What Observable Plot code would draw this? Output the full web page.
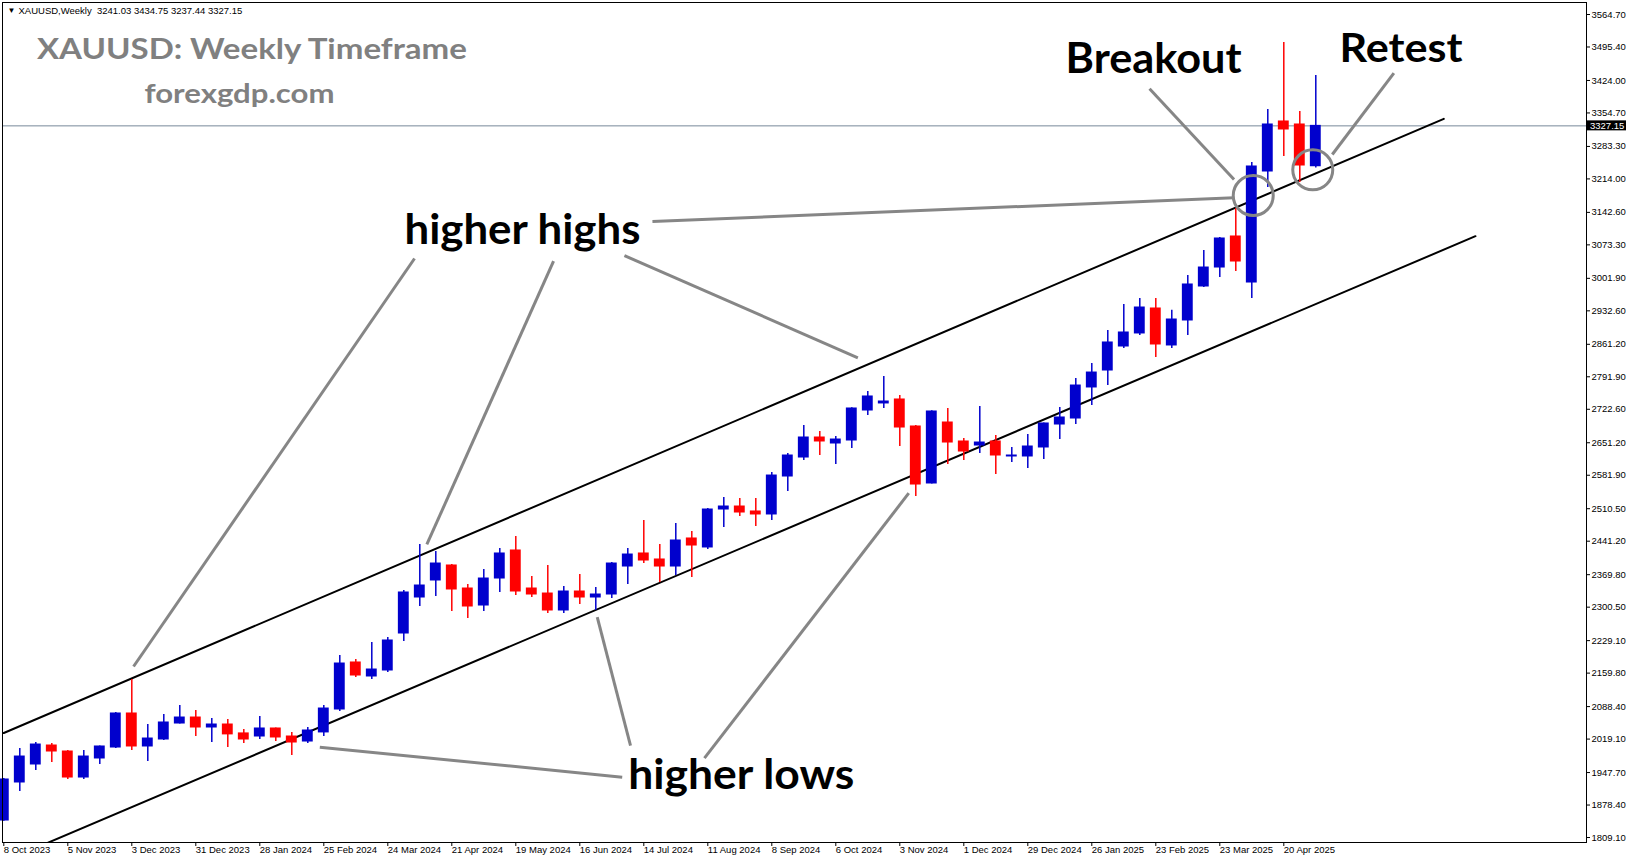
<!DOCTYPE html>
<html><head><meta charset="utf-8">
<script src="https://cdn.jsdelivr.net/npm/d3@7"></script>
<script src="https://cdn.jsdelivr.net/npm/@observablehq/plot@0.6"></script>
<style>html,body{margin:0;padding:0;background:#fff;overflow:hidden}</style>
</head><body><div id="chart"></div>
<script>
// Weekly XAUUSD candles, week index 0 = week of 8 Oct 2023
const opens = [
 1845.4,1926.5,1964.9,2005.4,1992.6,1937.1,1977.7,2001.1,2073.7,2003.3,
 2018.2,2052.3,2065.1,2043.8,2050.2,2031.2,2024.6,2041.7,2024.6,2013.9,
 2033.3,2082.2,2182.5,2152.6,2165.4,2244.3,2321.1,2357.4,2389.4,2340.3,
 2304.0,2361.6,2421.4,2340.3,2329.6,2293.4,2333.9,2321.1,2327.5,2387.2,
 2415.0,2402.2,2387.2,2447.0,2427.8,2508.8,2515.2,2504.6,2498.2,2579.2,
 2619.7,2662.4,2649.6,2656.0,2720.0,2735.0,2743.5,2685.9,2564.3,2694.4,
 2653.9,2645.3,2653.9,2621.9,2621.9,2641.1,2690.1,2702.9,2769.1,2805.3,
 2856.5,2884.3,2937.6,2858.7,2912.0,2984.5,3025.0,3091.2,2993.0,3229.8,
 3336.5,3330.1,3241.03];
const highs = [
 1935.0,1999.0,2011.8,2009.7,1994.7,1994.7,2004.5,2075.8,2146.2,2050.2,
 2071.5,2090.7,2080.1,2063.0,2060.9,2039.7,2067.3,2042.5,2033.3,2043.8,
 2090.7,2197.4,2188.8,2225.1,2235.8,2336.0,2434.2,2419.2,2391.5,2348.8,
 2380.8,2425.6,2451.2,2365.9,2389.4,2344.6,2370.2,2342.4,2395.8,2425.6,
 2485.4,2434.2,2479.0,2461.9,2511.0,2534.4,2532.3,2532.3,2587.7,2628.3,
 2688.0,2675.2,2664.5,2726.0,2760.5,2792.5,2752.0,2688.0,2719.5,2724.3,
 2660.3,2728.5,2666.7,2641.1,2668.8,2693.5,2726.4,2788.3,2820.2,2890.6,
 2946.1,2958.9,2958.9,2933.6,3008.0,3061.3,3089.0,3150.9,3249.0,3362.1,
 3505.0,3357.8,3434.75];
const lows = [
 1844.0,1907.3,1952.1,1969.1,1932.9,1932.9,1964.9,1999.0,1994.7,1971.3,
 2016.1,2051.5,2024.6,2011.8,2001.1,2009.7,2018.2,2013.9,1984.1,2009.7,
 2024.6,2077.9,2150.4,2146.2,2161.1,2227.3,2301.9,2323.2,2291.2,2276.3,
 2291.2,2331.8,2325.4,2321.1,2287.0,2287.0,2306.2,2293.4,2319.0,2348.8,
 2393.6,2353.1,2368.0,2363.8,2423.5,2470.4,2493.9,2472.6,2485.4,2547.2,
 2613.3,2624.0,2604.8,2639.0,2709.3,2724.3,2643.2,2536.6,2563.0,2604.8,
 2613.3,2628.3,2583.5,2609.1,2596.3,2615.4,2658.1,2690.1,2730.7,2773.3,
 2852.3,2880.0,2833.1,2852.3,2880.0,2982.4,3003.7,3016.5,2958.9,3195.7,
 3261.8,3206.3,3237.44];
const closes = [
 1932.9,1981.9,2007.5,1992.6,1937.1,1981.9,2003.3,2073.7,2003.3,2020.3,
 2054.5,2065.1,2043.8,2050.2,2029.1,2018.2,2041.7,2022.5,2011.8,2037.4,
 2084.3,2180.3,2154.7,2167.5,2229.4,2331.8,2346.7,2393.6,2338.2,2301.9,
 2361.6,2415.0,2333.9,2327.5,2293.4,2333.9,2321.1,2327.5,2393.6,2412.8,
 2400.0,2387.2,2442.7,2432.0,2508.8,2515.2,2502.4,2498.2,2581.3,2624.0,
 2662.4,2653.9,2658.1,2724.3,2749.9,2739.2,2683.7,2562.1,2717.9,2651.7,
 2632.5,2651.7,2624.0,2624.0,2643.2,2692.3,2705.1,2773.3,2801.0,2865.1,
 2886.4,2939.7,2860.8,2914.1,2988.8,3025.0,3086.9,3037.8,3240.5,3330.1,
 3319.4,3242.6,3327.15];

// x-axis tick labels (every 4 weeks)
const dateTickIdx = [0,4,8,12,16,20,24,28,32,36,40,44,48,52,56,60,64,68,72,76,80];
const dateLabels = ["8 Oct 2023","5 Nov 2023","3 Dec 2023","31 Dec 2023","28 Jan 2024","25 Feb 2024",
 "24 Mar 2024","21 Apr 2024","19 May 2024","16 Jun 2024","14 Jul 2024","11 Aug 2024","8 Sep 2024",
 "6 Oct 2024","3 Nov 2024","1 Dec 2024","29 Dec 2024","26 Jan 2025","23 Feb 2025","23 Mar 2025","20 Apr 2025"];
// y-axis tick labels
const priceTicks = [3564.70,3495.40,3424.00,3354.70,3283.30,3214.00,3142.60,3073.30,3001.90,2932.60,
 2861.20,2791.90,2722.60,2651.20,2581.90,2510.50,2441.20,2369.80,2300.50,2229.10,2159.80,2088.40,
 2019.10,1947.70,1878.40,1809.10];
const lastPrice = 3327.15;

// channel trendlines [weekIndex, price]
const upperChannel = [[0, 2032.1],[90.0, 3342.2]];
const lowerChannel = [[0, 1758.0],[91.98, 3091.8]];

// annotation pointer segments: [k1, p1, k2, p2]
const pointerLines = [
 [25.67,3044.2, 8.11,2173.9],
 [34.36,3038.7, 26.44,2434.2],
 [38.79,3050.6, 53.38,2832.4],
 [40.54,3123.2, 76.89,3173.7],
 [71.61,3406.2, 76.89,3212.7],
 [86.88,3439.5, 83.03,3266.1],
 [19.75,2001.8, 38.65,1937.8],
 [37.09,2279.1, 39.17,2005.4],
 [56.56,2543.6, 43.79,1978.3]];
const circleK = [78.09, 81.81];
const circlePrice = [3178.6, 3233.4];

const annoLabels = ["higher highs","higher lows","Breakout","Retest"];
const annoK = [25.04, 39.03, 66.36, 83.48];
const annoPrice = [3104.8, 1942.3, 3469.6, 3492.4];

const candles = opens.map((o,k)=>({k, open:o, high:highs[k], low:lows[k], close:closes[k]}));
const ups = candles.filter(d=>d.close>=d.open);
const downs = candles.filter(d=>d.close<d.open);
const BLUE="#0000CD", RED="#FF0000", GRAY="#868686";
const HW = 0.34;

const W=1631, H=861, ML=2, MR=45, MT=2, MB=19;
const pxPerK = 16;
const kMin = (ML - 3.3)/pxPerK;
const kMax = (W - MR - 3.3)/pxPerK;

const axisFont = "'Liberation Sans', Arial, sans-serif";
const bigFont = "Lato, 'Open Sans', sans-serif";

const priceBox = (index, scales, values, dims) => {
  const y = scales.y(lastPrice);
  const x0 = dims.width - dims.marginRight;
  const g = d3.create("svg:g");
  g.append("rect").attr("x", x0+1).attr("y", y-5).attr("width", 39).attr("height", 10).attr("fill","black");
  g.append("text").attr("x", x0+4).attr("y", y).attr("dy","0.34em").attr("fill","white")
    .attr("text-anchor","start").attr("font-size", 9.5).attr("font-family", axisFont).text(lastPrice.toFixed(2));
  return g.node();
};

const chart = Plot.plot({
  width: W, height: H,
  marginLeft: ML, marginRight: MR, marginTop: MT, marginBottom: MB,
  style: {background: "white", fontFamily: axisFont, fontSize: "9.5px", color: "black"},
  x: {type: "linear", domain: [kMin, kMax]},
  y: {domain: [1798.5, 3590.3]},
  marks: [
    Plot.ruleY([lastPrice], {stroke: "#778899", strokeWidth: 1}),
    Plot.line(upperChannel, {x: d=>d[0], y: d=>d[1], stroke: "black", strokeWidth: 2, clip: true}),
    Plot.line(lowerChannel, {x: d=>d[0], y: d=>d[1], stroke: "black", strokeWidth: 2, clip: true}),
    Plot.ruleX(ups, {x: "k", y1: "low", y2: "high", stroke: BLUE, strokeWidth: 1.5}),
    Plot.ruleX(downs, {x: "k", y1: "low", y2: "high", stroke: RED, strokeWidth: 1.5}),
    Plot.rect(ups, {x1: d=>d.k-HW, x2: d=>d.k+HW, y1: "open", y2: "close", fill: BLUE, insetTop: -0.5, insetBottom: -0.5}),
    Plot.rect(downs, {x1: d=>d.k-HW, x2: d=>d.k+HW, y1: "open", y2: "close", fill: RED, insetTop: -0.5, insetBottom: -0.5}),
    Plot.link(pointerLines, {x1: d=>d[0], y1: d=>d[1], x2: d=>d[2], y2: d=>d[3], stroke: GRAY, strokeWidth: 3}),
    Plot.dot(circleK, {x: d=>d, y: (d,i)=>circlePrice[i], r: 20, stroke: GRAY, strokeWidth: 3, fill: "none"}),
    Plot.text(annoLabels, {x: (d,i)=>annoK[i], y: (d,i)=>annoPrice[i], text: d=>d, textAnchor: "start", lineAnchor: "middle",
      fontSize: (d)=> d==="Retest" ? 41 : 42, fontWeight: "bold", fontFamily: bigFont, fill: "black"}),
    Plot.text(["XAUUSD: Weekly Timeframe"], {frameAnchor: "top-left", dx: 34.4, dy: 47.5, textAnchor: "start", lineAnchor: "middle",
      fontSize: 29, fontWeight: "bold", fontFamily: bigFont, fill: "#808080"}),
    Plot.text(["forexgdp.com"], {frameAnchor: "top-left", dx: 142, dy: 92, textAnchor: "start", lineAnchor: "middle",
      fontSize: 27, fontWeight: "bold", fontFamily: bigFont, fill: "#808080"}),
    Plot.text(["▼"], {frameAnchor: "top-left", dx: 5, dy: 8, textAnchor: "start", lineAnchor: "middle", fontSize: 8, fill: "black"}),
    Plot.text(["XAUUSD,Weekly  3241.03 3434.75 3237.44 3327.15"], {frameAnchor: "top-left", dx: 16, dy: 8, textAnchor: "start", lineAnchor: "middle", fontSize: 9.5, fill: "black"}),
    Plot.axisY({anchor: "right", ticks: priceTicks, tickFormat: d=>d.toFixed(2), tickSize: 3, tickPadding: 2, label: null, fontSize: 9.5}),
    Plot.axisX({anchor: "bottom", ticks: dateTickIdx, tickFormat: d=>dateLabels[dateTickIdx.indexOf(d)], tickSize: 4, tickPadding: 0, textAnchor: "start", label: null, fontSize: 9.5}),
    priceBox,
    Plot.frame({stroke: "black"})
  ]
});

const widths = {"XAUUSD: Weekly Timeframe":430, "forexgdp.com":190, "Breakout":176, "Retest":123, "higher highs":236, "higher lows":226};
chart.querySelectorAll("text").forEach(t => {
  const w = widths[t.textContent];
  if (w) { t.setAttribute("textLength", w); t.setAttribute("lengthAdjust", "spacingAndGlyphs"); }
});
document.getElementById("chart").appendChild(chart);
</script>
</body></html>
